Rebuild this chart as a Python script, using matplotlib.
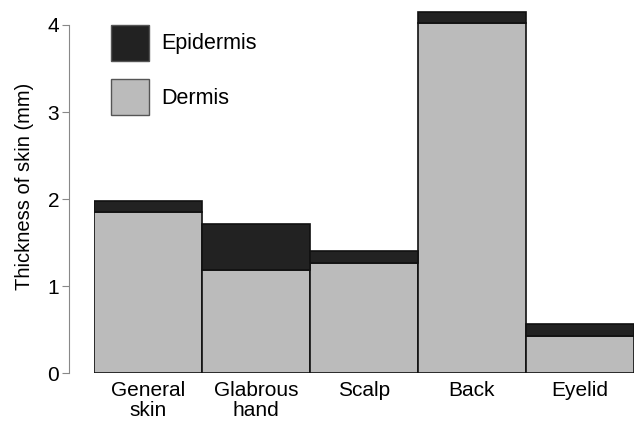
import matplotlib.pyplot as plt
from matplotlib.patches import Patch
import numpy as np

# skin thickness by site (mm)
sites = ["General\nskin", "Glabrous\nhand", "Scalp", "Back", "Eyelid"]
dermis = [1.85, 1.18, 1.26, 4.02, 0.43]
epidermis = [0.13, 0.53, 0.14, 0.13, 0.13]

plt.rcParams['font.family'] = ['Liberation Sans', 'DejaVu Sans']
plt.rcParams['font.size'] = 15

W, H = 634, 423
fig = plt.figure(figsize=(W / 100, H / 100), dpi=100)
ax = fig.add_axes([94 / W, 1 - 373 / H, (634 - 94) / W, 373 / H])

x = np.arange(len(sites))
ax.bar(x, dermis, width=1.0, color="#bbbbbb", edgecolor="#111111", linewidth=1.2, label="Dermis")
ax.bar(x, epidermis, width=1.0, bottom=dermis, color="#222222", edgecolor="#111111",
       linewidth=1.2, label="Epidermis")

ax.set_xlim(-0.5, 4.5)
ax.set_ylim(0, 373 / 87)
for s in ["top", "right", "bottom"]:
    ax.spines[s].set_visible(False)
ax.spines["left"].set_bounds(0, 4)
ax.spines["left"].set_position(("outward", 18))
ax.spines["left"].set_color("#888888")
ax.tick_params(axis="y", color="#888888", length=5, labelsize=15, pad=2)
ax.set_yticks([0, 1, 2, 3, 4])
ax.set_xticks(x)
ax.set_xticklabels(sites, linespacing=1.05)
ax.tick_params(axis="x", length=0, pad=6, labelsize=15)
ax.set_ylabel("Thickness of skin (mm)", fontsize=14.5, labelpad=10)

handles = [Patch(facecolor="#222222", edgecolor="#555555", label="Epidermis"),
           Patch(facecolor="#bbbbbb", edgecolor="#555555", label="Dermis")]
fig.legend(handles=handles, loc="upper left", bbox_to_anchor=(102 / W, 1 - 16 / H),
           frameon=False, handlelength=1.77, handleheight=2.2, labelspacing=0.85,
           handletextpad=0.6, fontsize=15.5, borderaxespad=0)

fig.savefig("out.png", dpi=100)
